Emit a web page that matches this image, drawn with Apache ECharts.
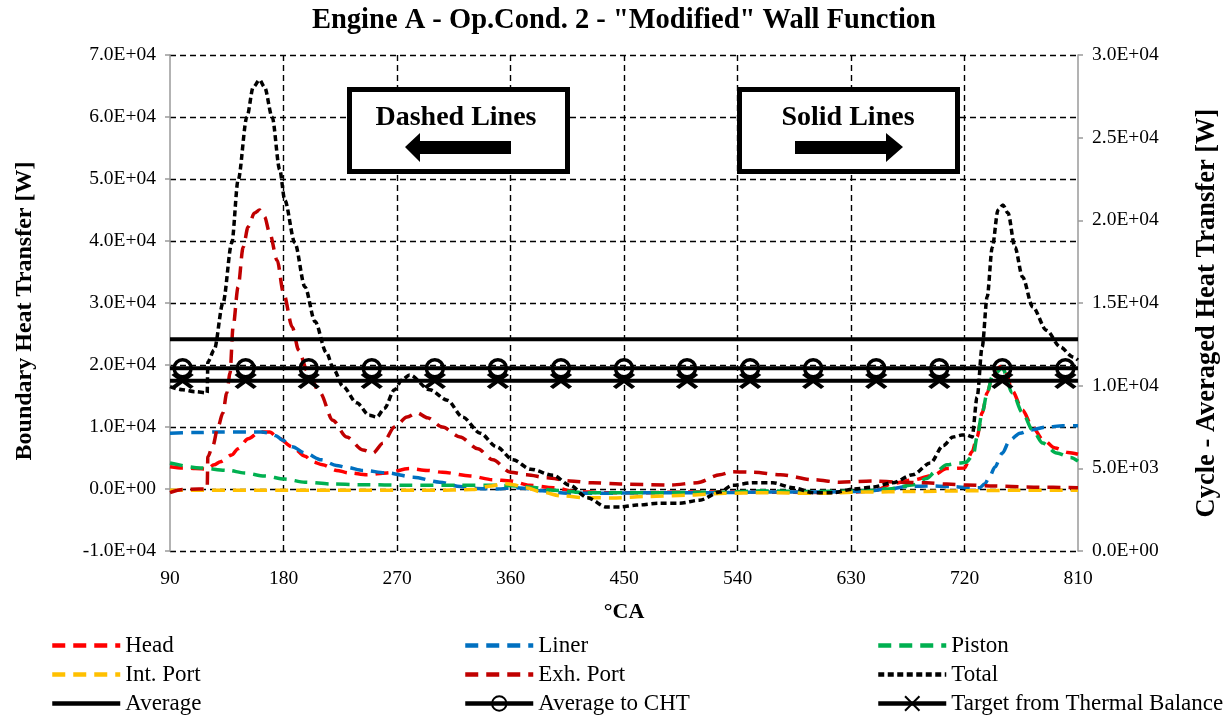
<!DOCTYPE html>
<html>
<head>
<meta charset="utf-8">
<script src="https://cdn.jsdelivr.net/npm/echarts@6.0.0/dist/echarts.min.js"></script>
<style>
html,body{margin:0;padding:0;background:#fff;}
#chart{width:1228px;height:716px;}
</style>
</head>
<body>
<div id="chart"></div>
<script>
// ---- data (crank angle [deg], heat transfer [W]) ----
const headData = [[90,3600],[100,3400],[110,3300],[119.5,3200],[125,3900],[130,4400],[139,5500],[144,6500],[152,8100],[161,9200],[169,9200],[176,8200],[187,6800],[197,5300],[203,4400],[211,3900],[222,3000],[232,2600],[246,2300],[262,2600],[280,3300],[294,3000],[306,2700],[328,2100],[346,1500],[360,1300],[375,600],[394,200],[412,-400],[433,-600],[460,-600],[500,-500],[530,-500],[560,-500],[600,-550],[630,-500],[650,-200],[663,900],[680,1500],[695,2200],[706,3300],[720,3400],[726,6000],[730,8400],[734,12300],[738,15500],[742,18000],[748,19700],[752,19300],[758,15800],[766,12700],[774,10000],[782,8000],[792,6600],[802,5900],[810,5600]];
const linerData = [[90,9000],[110,9100],[130,9200],[150,9200],[163,9200],[169,9000],[174,8600],[179,7900],[187,6800],[197,5800],[210,4700],[222,3800],[230,3500],[243,3000],[262,2600],[283,1900],[304,1100],[320,400],[333,100],[350,0],[362,200],[372,100],[385,-300],[405,-700],[430,-700],[470,-600],[520,-600],[560,-500],[600,-500],[640,-400],[660,0],[675,400],[690,500],[710,400],[725,200],[732,200],[736,800],[740,2000],[744,3500],[750,5800],[756,7900],[764,9000],[772,9500],[785,10000],[798,10200],[810,10200]];
const pistonData = [[90,4200],[114,3400],[136,3000],[149,2600],[165,2100],[181,1600],[197,1100],[218,800],[240,700],[280,600],[320,600],[350,600],[364,500],[376,300],[394,-200],[420,-600],[470,-600],[530,-500],[560,-300],[600,-400],[640,-300],[660,0],[680,700],[690,1700],[697,2800],[706,3900],[716,4200],[721,4300],[727,5500],[730,8400],[734,12300],[738,15500],[742,18100],[750,19500],[758,15500],[766,12300],[774,9500],[782,7400],[793,5800],[804,5100],[810,4500]];
const intPortData = [[90,-200],[200,-200],[300,-200],[330,-100],[345,500],[355,900],[362,700],[372,200],[385,-500],[400,-1100],[420,-1400],[440,-1450],[470,-1200],[500,-1000],[530,-700],[560,-600],[600,-700],[640,-500],[680,-400],[720,-300],[760,-200],[810,-200]];
const exhPortData = [[90,-600],[100,-100],[113,0],[119.5,0],[120,5200],[124,7000],[128,10000],[132,12300],[135,15500],[137.6,18700],[140,26100],[144,32600],[148,39000],[152,42300],[157,44500],[161,45000],[165,43900],[169,41300],[175,36900],[180,31600],[187,26100],[192,22400],[199,19000],[209,15500],[219,11100],[230,8400],[243,6300],[251,5800],[259,7400],[268,10000],[278,11600],[286,12300],[294,11500],[306,10000],[320,8400],[334,6500],[346,4700],[360,2700],[373,2300],[389,1800],[407,1300],[425,1000],[447,800],[487,650],[508,1000],[526,2300],[536,2800],[552,2700],[574,2300],[600,1500],[621,1100],[647,1300],[669,1100],[690,1000],[706,800],[722,650],[740,500],[775,300],[810,200]];
const totalData = [[90,16500],[100,16000],[110,15700],[119.5,15500],[120,20500],[125,22400],[132,30000],[139,39700],[144,49800],[151,60000],[156,64800],[161,66000],[165,64800],[171,60000],[177,51500],[181,46600],[189,39700],[197,32600],[205,27000],[214,22000],[220,19200],[227,16600],[238,13900],[248,11900],[254,11600],[260,13000],[268,16000],[274,17600],[280,18400],[296,16000],[310,14300],[322,11600],[336,9000],[349,6800],[362,4700],[376,3200],[394,2200],[407,600],[421,-1400],[436,-2900],[447,-2900],[460,-2600],[478,-2300],[494,-2300],[510,-1800],[526,-500],[536,600],[552,1000],[568,1000],[584,200],[600,-600],[616,-600],[632,0],[647,300],[663,1000],[679,2300],[693,4200],[703,7000],[711,8400],[718,8700],[722,8700],[726,8400],[730,14800],[734,22900],[738,31000],[742,39000],[746.6,45000],[750.5,45800],[754.5,44500],[760,39000],[766,34200],[774,29400],[785,25600],[796,22900],[806,21300],[810,20800]];

// cycle-averaged values (right axis)
const averageValue = 12800;
const averageToCHTValue = 11050;
const targetValue = 10300;
const markerAngles = [100,150,200,250,300,350,400,450,500,550,600,650,700,750,800];
const xRange = [90, 810];

// tick settings
const xTicks = {min: 90, max: 810, interval: 90};
const yLeftTicks = {min: -10000, max: 70000, interval: 10000};
const yRightTicks = {min: 0, max: 30000, interval: 5000};

function sci(v){
  if (v === 0) return '0.0E+00';
  const s = v.toExponential(1);
  const parts = s.split('e');
  const e = parseInt(parts[1], 10);
  return parts[0] + 'E' + (e < 0 ? '-' : '+') + String(Math.abs(e)).padStart(2,'0');
}
function flatLine(v){
  const d = [{value:[xRange[0], v], symbol:'none'}];
  markerAngles.forEach(a => d.push({value:[a, v]}));
  d.push({value:[xRange[1], v], symbol:'none'});
  return d;
}

const FONT = '"Liberation Serif","Times New Roman",serif';
const COLORS = {head:'#FF0000', liner:'#0070C0', piston:'#00B050', intp:'#FFC000', exh:'#C00000', total:'#000000'};
const longDash = [13, 8];

function dashed(name, data, color, dash, z){
  return {type:'line', name, data, yAxisIndex:0, symbol:'none', showSymbol:false,
    smooth:0.3, smoothMonotone:'x', z:z,
    lineStyle:{color, width:3.5, type:dash, cap:'butt'}, itemStyle:{color}};
}

const chart = echarts.init(document.getElementById('chart'), null, {renderer:'canvas'});
const legendCommon = {orient:'vertical', itemWidth:68, itemHeight:18, itemGap:6, padding:0, height:110,
  lineStyle:{width:4.5},
  textStyle:{fontFamily:FONT, fontSize:23, color:'#000', lineHeight:23}, top:634, selectedMode:false};
const noSym = name => ({name, itemStyle:{opacity:0}});

chart.setOption({
  animation:false,
  backgroundColor:'#fff',
  textStyle:{fontFamily:FONT},
  title:{text:'Engine A - Op.Cond. 2 - "Modified" Wall Function', left:307, top:1,
    textStyle:{fontFamily:FONT, fontSize:28.5, fontWeight:'bold', color:'#000'}},
  grid:{left:170, right:150, top:55, bottom:165, containLabel:false, outerBoundsMode:'none'},
  legend:[
    Object.assign({}, legendCommon, {left:50, data:[noSym('Head'), noSym('Int. Port'), noSym('Average')]}),
    Object.assign({}, legendCommon, {left:463, data:[noSym('Liner'), noSym('Exh. Port'), 'Average to CHT']}),
    Object.assign({}, legendCommon, {left:876, data:[noSym('Piston'), noSym('Total'), 'Target from Thermal Balance']})
  ],
  xAxis:{type:'value', min:xTicks.min, max:xTicks.max, interval:xTicks.interval,
    name:'°CA', nameLocation:'middle', nameGap:50,
    nameTextStyle:{fontFamily:FONT, fontSize:22, fontWeight:'bold', color:'#000'},
    axisLine:{show:false}, axisTick:{show:false},
    axisLabel:{fontFamily:FONT, fontSize:19.5, color:'#000', margin:18},
    splitLine:{show:true, showMinLine:false, showMaxLine:false, lineStyle:{color:'#000', width:1.4, type:[6,4]}}},
  yAxis:[
    {type:'value', position:'left', min:yLeftTicks.min, max:yLeftTicks.max, interval:yLeftTicks.interval,
     name:'Boundary Heat Transfer [W]', nameLocation:'middle', nameRotate:90, nameGap:133,
     nameTextStyle:{fontFamily:FONT, fontSize:24, fontWeight:'bold', color:'#000', padding:[0,16,0,0]},
     axisLine:{show:true, onZero:false, lineStyle:{color:'#9a9a9a', width:1.5}},
     axisTick:{show:true, length:5, lineStyle:{color:'#9a9a9a', width:1.5}},
     axisLabel:{fontFamily:FONT, fontSize:19.5, color:'#000', margin:14, formatter:sci},
     splitLine:{show:true, lineStyle:{color:'#000', width:1.4, type:[6,4]}}},
    {type:'value', position:'right', min:yRightTicks.min, max:yRightTicks.max, interval:yRightTicks.interval,
     name:'Cycle - Averaged Heat Transfer [W]', nameLocation:'middle', nameRotate:90, nameGap:116,
     nameTextStyle:{fontFamily:FONT, fontSize:26.5, fontWeight:'bold', color:'#000', padding:[0,20,0,0]},
     axisLine:{show:true, onZero:false, lineStyle:{color:'#9a9a9a', width:1.5}},
     axisTick:{show:true, length:5, lineStyle:{color:'#9a9a9a', width:1.5}},
     axisLabel:{fontFamily:FONT, fontSize:19.5, color:'#000', margin:14, formatter:sci},
     splitLine:{show:false}}
  ],
  series:[
    dashed('Head', headData, COLORS.head, longDash, 3),
    dashed('Liner', linerData, COLORS.liner, longDash, 3),
    dashed('Piston', pistonData, COLORS.piston, longDash, 3),
    dashed('Int. Port', intPortData, COLORS.intp, longDash, 3),
    dashed('Exh. Port', exhPortData, COLORS.exh, longDash, 3),
    dashed('Total', totalData, COLORS.total, [6,3.5], 4),
    {type:'line', name:'Average', yAxisIndex:1, symbol:'none', z:5,
     data:[[xRange[0], averageValue],[xRange[1], averageValue]],
     lineStyle:{color:'#000', width:4, type:'solid'}, itemStyle:{color:'#000'}},
    {type:'line', name:'Average to CHT', yAxisIndex:1, symbol:'circle', symbolSize:17, showSymbol:true, z:5,
     data:flatLine(averageToCHTValue),
     lineStyle:{color:'#000', width:4, type:'solid'},
     itemStyle:{color:'rgba(0,0,0,0)', borderColor:'#000', borderWidth:3.5}},
    {type:'line', name:'Target from Thermal Balance', yAxisIndex:1,
     symbol:'path://M0,0L20,15M20,0L0,15', symbolSize:[19,14], showSymbol:true, z:5,
     data:flatLine(targetValue),
     lineStyle:{color:'#000', width:4, type:'solid'},
     itemStyle:{color:'#000', borderColor:'#000', borderWidth:4}}
  ],
  graphic:[
    {type:'rect', z:100, shape:{x:349.5, y:89.5, width:218, height:82}, style:{fill:'#fff', stroke:'#000', lineWidth:5}},
    {type:'text', z:101, x:456, y:118, style:{text:'Dashed Lines', font:'bold 28px "Liberation Serif","Times New Roman",serif', fill:'#000', align:'center', verticalAlign:'middle'}},
    {type:'polygon', z:101, shape:{points:[[405,147],[420,133],[420,141],[511,141],[511,154],[420,154],[420,162]]}, style:{fill:'#000'}},
    {type:'rect', z:100, shape:{x:739.5, y:89.5, width:218, height:82}, style:{fill:'#fff', stroke:'#000', lineWidth:5}},
    {type:'text', z:101, x:848, y:118, style:{text:'Solid Lines', font:'bold 28px "Liberation Serif","Times New Roman",serif', fill:'#000', align:'center', verticalAlign:'middle'}},
    {type:'polygon', z:101, shape:{points:[[903,147],[886,133],[886,141],[795,141],[795,154],[886,154],[886,162]]}, style:{fill:'#000'}}
  ]
});
</script>
</body>
</html>
